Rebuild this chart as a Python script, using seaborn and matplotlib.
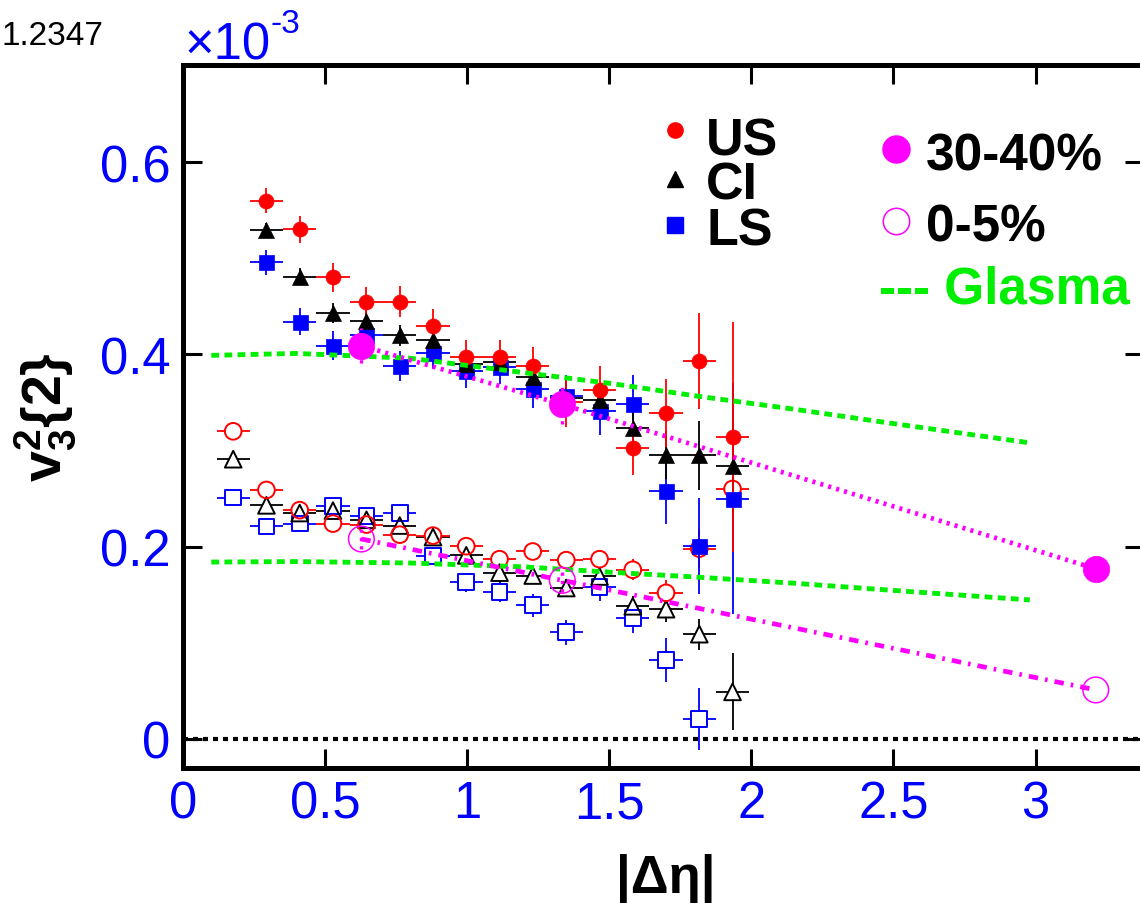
import matplotlib
matplotlib.use("Agg")
import matplotlib.pyplot as plt
import seaborn as sns

# ---------------- data (units of 1e-3) ----------------
eta_open = [0.177, 0.294, 0.411, 0.528, 0.646, 0.763, 0.880, 0.997,
            1.114, 1.231, 1.349, 1.466, 1.583, 1.700, 1.817, 1.934]
eta_filled = [0.294, 0.411, 0.528, 0.646, 0.763, 0.880, 0.997,
              1.114, 1.231, 1.349, 1.466, 1.583, 1.700, 1.817, 1.934]
eta_ls_open = [0.177, 0.294, 0.411, 0.528, 0.646, 0.763, 0.880, 0.997,
               1.114, 1.231, 1.349, 1.466, 1.583, 1.700, 1.817]
bin_half_width = 0.0587

# 30-40% centrality (filled)
us_3040 = [0.560, 0.530, 0.480, 0.454, 0.455, 0.430, 0.397, 0.397,
           0.388, 0.350, 0.363, 0.303, 0.339, 0.393, 0.314]
us_3040_err = [0.013, 0.014, 0.015, 0.016, 0.016, 0.017, 0.018, 0.018,
               0.020, 0.026, 0.025, 0.028, 0.035, 0.050, 0.120]
ci_3040 = [0.529, 0.481, 0.443, 0.435, 0.420, 0.415, 0.390, 0.392,
           0.376, 0.355, 0.353, 0.323, 0.295, 0.295, 0.284]
ci_3040_err = [0.008, 0.009, 0.010, 0.010, 0.011, 0.011, 0.012, 0.012,
               0.013, 0.015, 0.017, 0.020, 0.025, 0.036, 0.050]
ls_3040 = [0.496, 0.434, 0.409, 0.420, 0.388, 0.401, 0.383, 0.387,
           0.364, 0.357, 0.341, 0.348, 0.258, 0.201, 0.250]
ls_3040_err = [0.013, 0.014, 0.015, 0.016, 0.016, 0.016, 0.018, 0.018,
               0.020, 0.022, 0.025, 0.031, 0.034, 0.050, 0.120]

# 0-5% centrality (open)
us_005 = [0.320, 0.259, 0.238, 0.224, 0.223, 0.2125, 0.2115, 0.2005,
          0.187, 0.195, 0.186, 0.187, 0.176, 0.152, 0.198, 0.260]
us_005_err = [0.004, 0.005, 0.005, 0.005, 0.006, 0.006, 0.006, 0.007,
              0.007, 0.008, 0.009, 0.010, 0.011, 0.013, 0.020, 0.030]
ci_005 = [0.291, 0.243, 0.235, 0.2375, 0.228, 0.222, 0.210, 0.191,
          0.173, 0.170, 0.157, 0.169, 0.138, 0.135, 0.109, 0.049]
ci_005_err = [0.004, 0.005, 0.005, 0.005, 0.006, 0.006, 0.006, 0.007,
              0.007, 0.008, 0.009, 0.010, 0.011, 0.013, 0.016, 0.040]
ls_005 = [0.251, 0.221, 0.224, 0.242, 0.232, 0.235, 0.190, 0.163,
          0.153, 0.139, 0.111, 0.158, 0.126, 0.082, 0.021]
ls_005_err = [0.007, 0.007, 0.007, 0.008, 0.008, 0.008, 0.009, 0.010,
              0.011, 0.012, 0.013, 0.015, 0.016, 0.023, 0.032]

# magenta reference points
mag_eta = [0.628, 1.335, 3.212]
mag_3040 = [0.409, 0.348, 0.177]
mag_3040_err = [0.018, 0.020, 0.0]
mag_005 = [0.208, 0.165, 0.051]
mag_005_err = [0.010, 0.012, 0.0]

# Glasma curves
glasma_eta = [0.10, 0.40, 0.80, 1.20, 1.50, 1.80, 2.15, 2.50, 2.98]
glasma_3040 = [0.399, 0.401, 0.396, 0.381, 0.370, 0.357, 0.343, 0.328, 0.308]
glasma_005 = [0.184, 0.1845, 0.183, 0.179, 0.1735, 0.1685, 0.162, 0.1545, 0.1446]

xticks = [0, 0.5, 1, 1.5, 2, 2.5, 3]
xtick_labels = ["0", "0.5", "1", "1.5", "2", "2.5", "3"]
yticks = [0, 0.2, 0.4, 0.6]
ytick_labels = ["0", "0.2", "0.4", "0.6"]

# ---------------- style ----------------
sns.set_theme(style="ticks")
plt.rcParams["font.family"] = ["Liberation Sans", "DejaVu Sans"]
plt.rcParams["mathtext.fontset"] = "custom"
plt.rcParams["mathtext.rm"] = "Liberation Sans"
plt.rcParams["mathtext.bf"] = "Liberation Sans:bold"
plt.rcParams["mathtext.it"] = "Liberation Sans:italic"

RED = "#ff0000"
BLACK = "#000000"
BLUE = "#0000ff"
MAG = "#ff00ff"
GREEN = "#00ee00"

W, H = 1140, 904
fig = plt.figure(figsize=(11.4, 9.04), dpi=100)
ax = fig.add_axes([182.9 / W, 1 - 769 / H, 960.6 / W, 703 / H])


def draw_series(x, y, yerr, color, marker, size, filled, z):
    ax.errorbar(x, y, xerr=bin_half_width, yerr=yerr, fmt="none",
                ecolor=color, elinewidth=1.3, capsize=0, zorder=z)
    if not filled:
        # white interior so error bars do not cross the hollow marker
        sns.scatterplot(x=x, y=y, marker=marker, s=(size * 0.92) ** 2, ax=ax,
                        legend=False, zorder=2.6)
        cw = ax.collections[-1]
        cw.set_facecolor("white")
        cw.set_edgecolor("none")
        cw.set_linewidth(0)
    sns.scatterplot(x=x, y=y, marker=marker, s=size ** 2, ax=ax,
                    legend=False, zorder=z + 1)
    coll = ax.collections[-1]
    if filled:
        coll.set_facecolor(color)
        coll.set_edgecolor(color)
        coll.set_linewidth(0.5)
    else:
        coll.set_facecolor("none")
        coll.set_edgecolor(color)
        coll.set_linewidth(1.4)


# open (0-5%)
draw_series(eta_ls_open, ls_005, ls_005_err, BLUE, "s", 11.3, False, 2)
draw_series(eta_open, ci_005, ci_005_err, BLACK, "^", 12.0, False, 2.1)
draw_series(eta_open, us_005, us_005_err, RED, "o", 12.0, False, 2.2)
# filled (30-40%)
draw_series(eta_filled, ls_3040, ls_3040_err, BLUE, "s", 10.8, True, 3.3)
draw_series(eta_filled, ci_3040, ci_3040_err, BLACK, "^", 11.5, True, 3.4)
draw_series(eta_filled, us_3040, us_3040_err, RED, "o", 10.8, True, 3.5)

# zero line
ax.axhline(0, color=BLACK, lw=3.0, linestyle=(0, (1.2, 1.2)), zorder=1)

# Glasma curves
for gy in (glasma_3040, glasma_005):
    sns.lineplot(x=glasma_eta, y=gy, ax=ax, color=GREEN, lw=3.5,
                 sort=False, estimator=None, zorder=6)
    ax.lines[-1].set_linestyle((0, (1.6, 1.1)))

# magenta lines
sns.lineplot(x=mag_eta, y=mag_3040, ax=ax, color=MAG, lw=3.4,
             sort=False, estimator=None, zorder=6)
ax.lines[-1].set_linestyle((0, (0.65, 1.1)))
sns.lineplot(x=mag_eta, y=mag_005, ax=ax, color=MAG, lw=3.4,
             sort=False, estimator=None, zorder=6)
ax.lines[-1].set_linestyle((0, (2.0, 1.5, 0.55, 1.5)))

# magenta error bars + markers
eb = ax.errorbar(mag_eta, mag_3040, yerr=mag_3040_err, fmt="none",
                 ecolor=MAG, elinewidth=2.4, capsize=0, zorder=6)
eb[2][0].set_linestyle((0, (1.0, 1.5)))
eb = ax.errorbar(mag_eta, mag_005, yerr=mag_005_err, fmt="none",
                 ecolor=MAG, elinewidth=2.4, capsize=0, zorder=6)
eb[2][0].set_linestyle((0, (1.0, 1.5)))
sns.scatterplot(x=mag_eta, y=mag_3040, marker="o", s=19.0 ** 2, ax=ax,
                legend=False, zorder=7)
c = ax.collections[-1]
c.set_facecolor(MAG)
c.set_edgecolor(MAG)
c.set_linewidth(0.5)
sns.scatterplot(x=mag_eta, y=mag_005, marker="o", s=18.5 ** 2, ax=ax,
                legend=False, zorder=7)
c = ax.collections[-1]
c.set_facecolor("none")
c.set_edgecolor(MAG)
c.set_linewidth(1.1)

# axes
ax.set_xlim(0, 3.38)
ax.set_ylim(-0.0302, 0.701)
ax.set_xticks(xticks)
ax.set_xticklabels(xtick_labels)
ax.set_yticks(yticks)
ax.set_yticklabels(ytick_labels)
ax.minorticks_off()
ax.tick_params(axis="both", which="major", direction="in", length=14,
               width=2.2, top=True, right=True, labelsize=36.5,
               labelcolor=BLUE, color=BLACK)
ax.tick_params(axis="y", pad=9)
ax.tick_params(axis="x", pad=8)
for sp in ax.spines.values():
    sp.set_linewidth(3.6)
    sp.set_color(BLACK)
ax.set_facecolor("white")
ax.grid(False)
ax.set_xlabel("")
ax.set_ylabel("")


def fx(px):
    return px / W


def fy(py):
    return 1 - py / H


# axis labels
fig.text(fx(666), fy(893), "|Δη|", ha="center", va="baseline",
         fontsize=38, fontweight="bold", color=BLACK)
fig.text(fx(45), fy(417), r"$\mathbf{v_3^2\{2\}}$", ha="center",
         va="center", rotation=90, fontsize=40, color=BLACK)

# multiplier
fig.text(fx(184), fy(60), "×10", ha="left", va="baseline",
         fontsize=36.5, color=BLUE)
fig.text(fx(271), fy(33), "-3", ha="left", va="baseline",
         fontsize=24, color=BLUE)
fig.text(fx(2), fy(45), "1.2347", ha="left", va="baseline",
         fontsize=24, color=BLACK)

# legend block
fig.lines.append(plt.Line2D([fx(675)], [fy(131)], marker="o", ms=11,
                            color=RED, mec=RED, ls="none",
                            transform=fig.transFigure))
fig.lines.append(plt.Line2D([fx(675)], [fy(180)], marker="^", ms=11,
                            color=BLACK, mec=BLACK, ls="none",
                            transform=fig.transFigure))
fig.lines.append(plt.Line2D([fx(675)], [fy(226)], marker="s", ms=11,
                            color=BLUE, mec=BLUE, ls="none",
                            transform=fig.transFigure))
for txt, base in (("US", 155), ("CI", 200), ("LS", 246)):
    fig.text(fx(706), fy(base), txt, ha="left", va="baseline",
             fontsize=37.5, fontweight="bold", color=BLACK)

fig.lines.append(plt.Line2D([fx(896)], [fy(150)], marker="o", ms=19.5,
                            color=MAG, mec=MAG, ls="none",
                            transform=fig.transFigure))
fig.lines.append(plt.Line2D([fx(896)], [fy(222)], marker="o", ms=19,
                            mfc="none", mec=MAG, mew=1.1, ls="none",
                            transform=fig.transFigure))
fig.text(fx(926), fy(171), "30-40%", ha="left", va="baseline",
         fontsize=37, fontweight="bold", color=BLACK)
fig.text(fx(926), fy(241), "0-5%", ha="left", va="baseline",
         fontsize=37, fontweight="bold", color=BLACK)
fig.text(fx(879), fy(304), "--- Glasma", ha="left", va="baseline",
         fontsize=37, fontweight="bold", color=GREEN)

fig.savefig("out.png", dpi=100, facecolor="white")
